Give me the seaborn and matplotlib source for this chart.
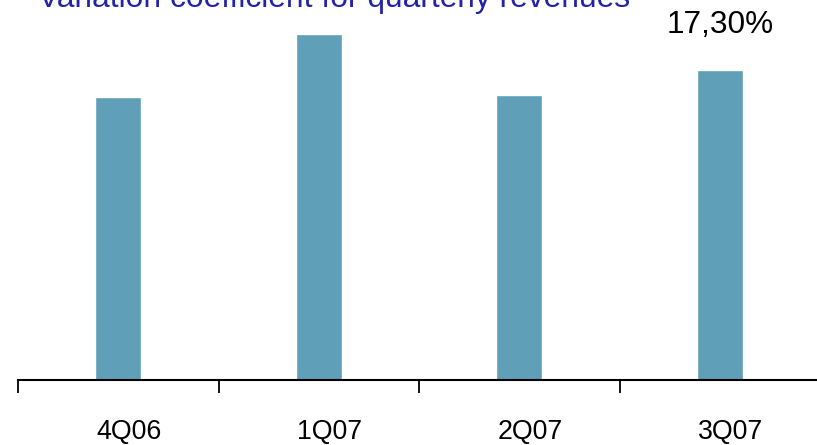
import seaborn as sns
import pandas as pd
import matplotlib.pyplot as plt
import matplotlib.transforms as mtransforms

# values (only 3Q07 is labelled)
quarters = ['4Q06', '1Q07', '2Q07', '3Q07']
coef = [15.8, 19.3, 15.9, 17.3]
labels = ['', '', '', '17,30%']

data = pd.DataFrame({'quarter': quarters, 'coef': coef})

sns.set_style('white')
plt.rcParams['font.family'] = ['Liberation Sans', 'DejaVu Sans']

fig = plt.figure(figsize=(8.17, 4.45), dpi=100)
ax = fig.add_axes([18 / 817, 65 / 445, 802 / 817, 380 / 445])

sns.barplot(x='quarter', y='coef', data=data, color='#5f9fb8', width=0.23,
            saturation=1, ax=ax)

ax.set_xlim(-0.5, 3.5)
ax.set_ylim(0, 21.2)
for s in ['top', 'left', 'right']:
    ax.spines[s].set_visible(False)
ax.spines['bottom'].set_color('black')
ax.spines['bottom'].set_linewidth(1.5)
ax.set_yticks([])
ax.set_xlabel('')
ax.set_ylabel('')

# tick marks at category boundaries, labels centred in between
ax.set_xticks([-0.5, 0.5, 1.5, 2.5, 3.5], minor=True)
ax.tick_params(axis='x', which='minor', bottom=True, direction='out',
               length=9.5, width=1.3, color='black')
ax.tick_params(axis='x', which='major', length=0, pad=28, labelsize=19.3,
               labelcolor='black')
# labels sit a little right of the bars in the original
shift = mtransforms.ScaledTranslation(11 / 100, 0, fig.dpi_scale_trans)
for t in ax.get_xticklabels():
    t.set_transform(t.get_transform() + shift)

for i, lab in enumerate(labels):
    if lab:
        ax.annotate(lab, (i, coef[i]), xytext=(0, 26.5), textcoords='offset points',
                    ha='center', va='baseline', fontsize=22.7, color='black',
                    annotation_clip=False)

fig.text(38 / 817, 1 - 7 / 445, 'Variation coefficient for quarterly revenues',
         color='#2323a6', fontsize=22.9, ha='left', va='baseline')

fig.savefig('out.png', dpi=100)
